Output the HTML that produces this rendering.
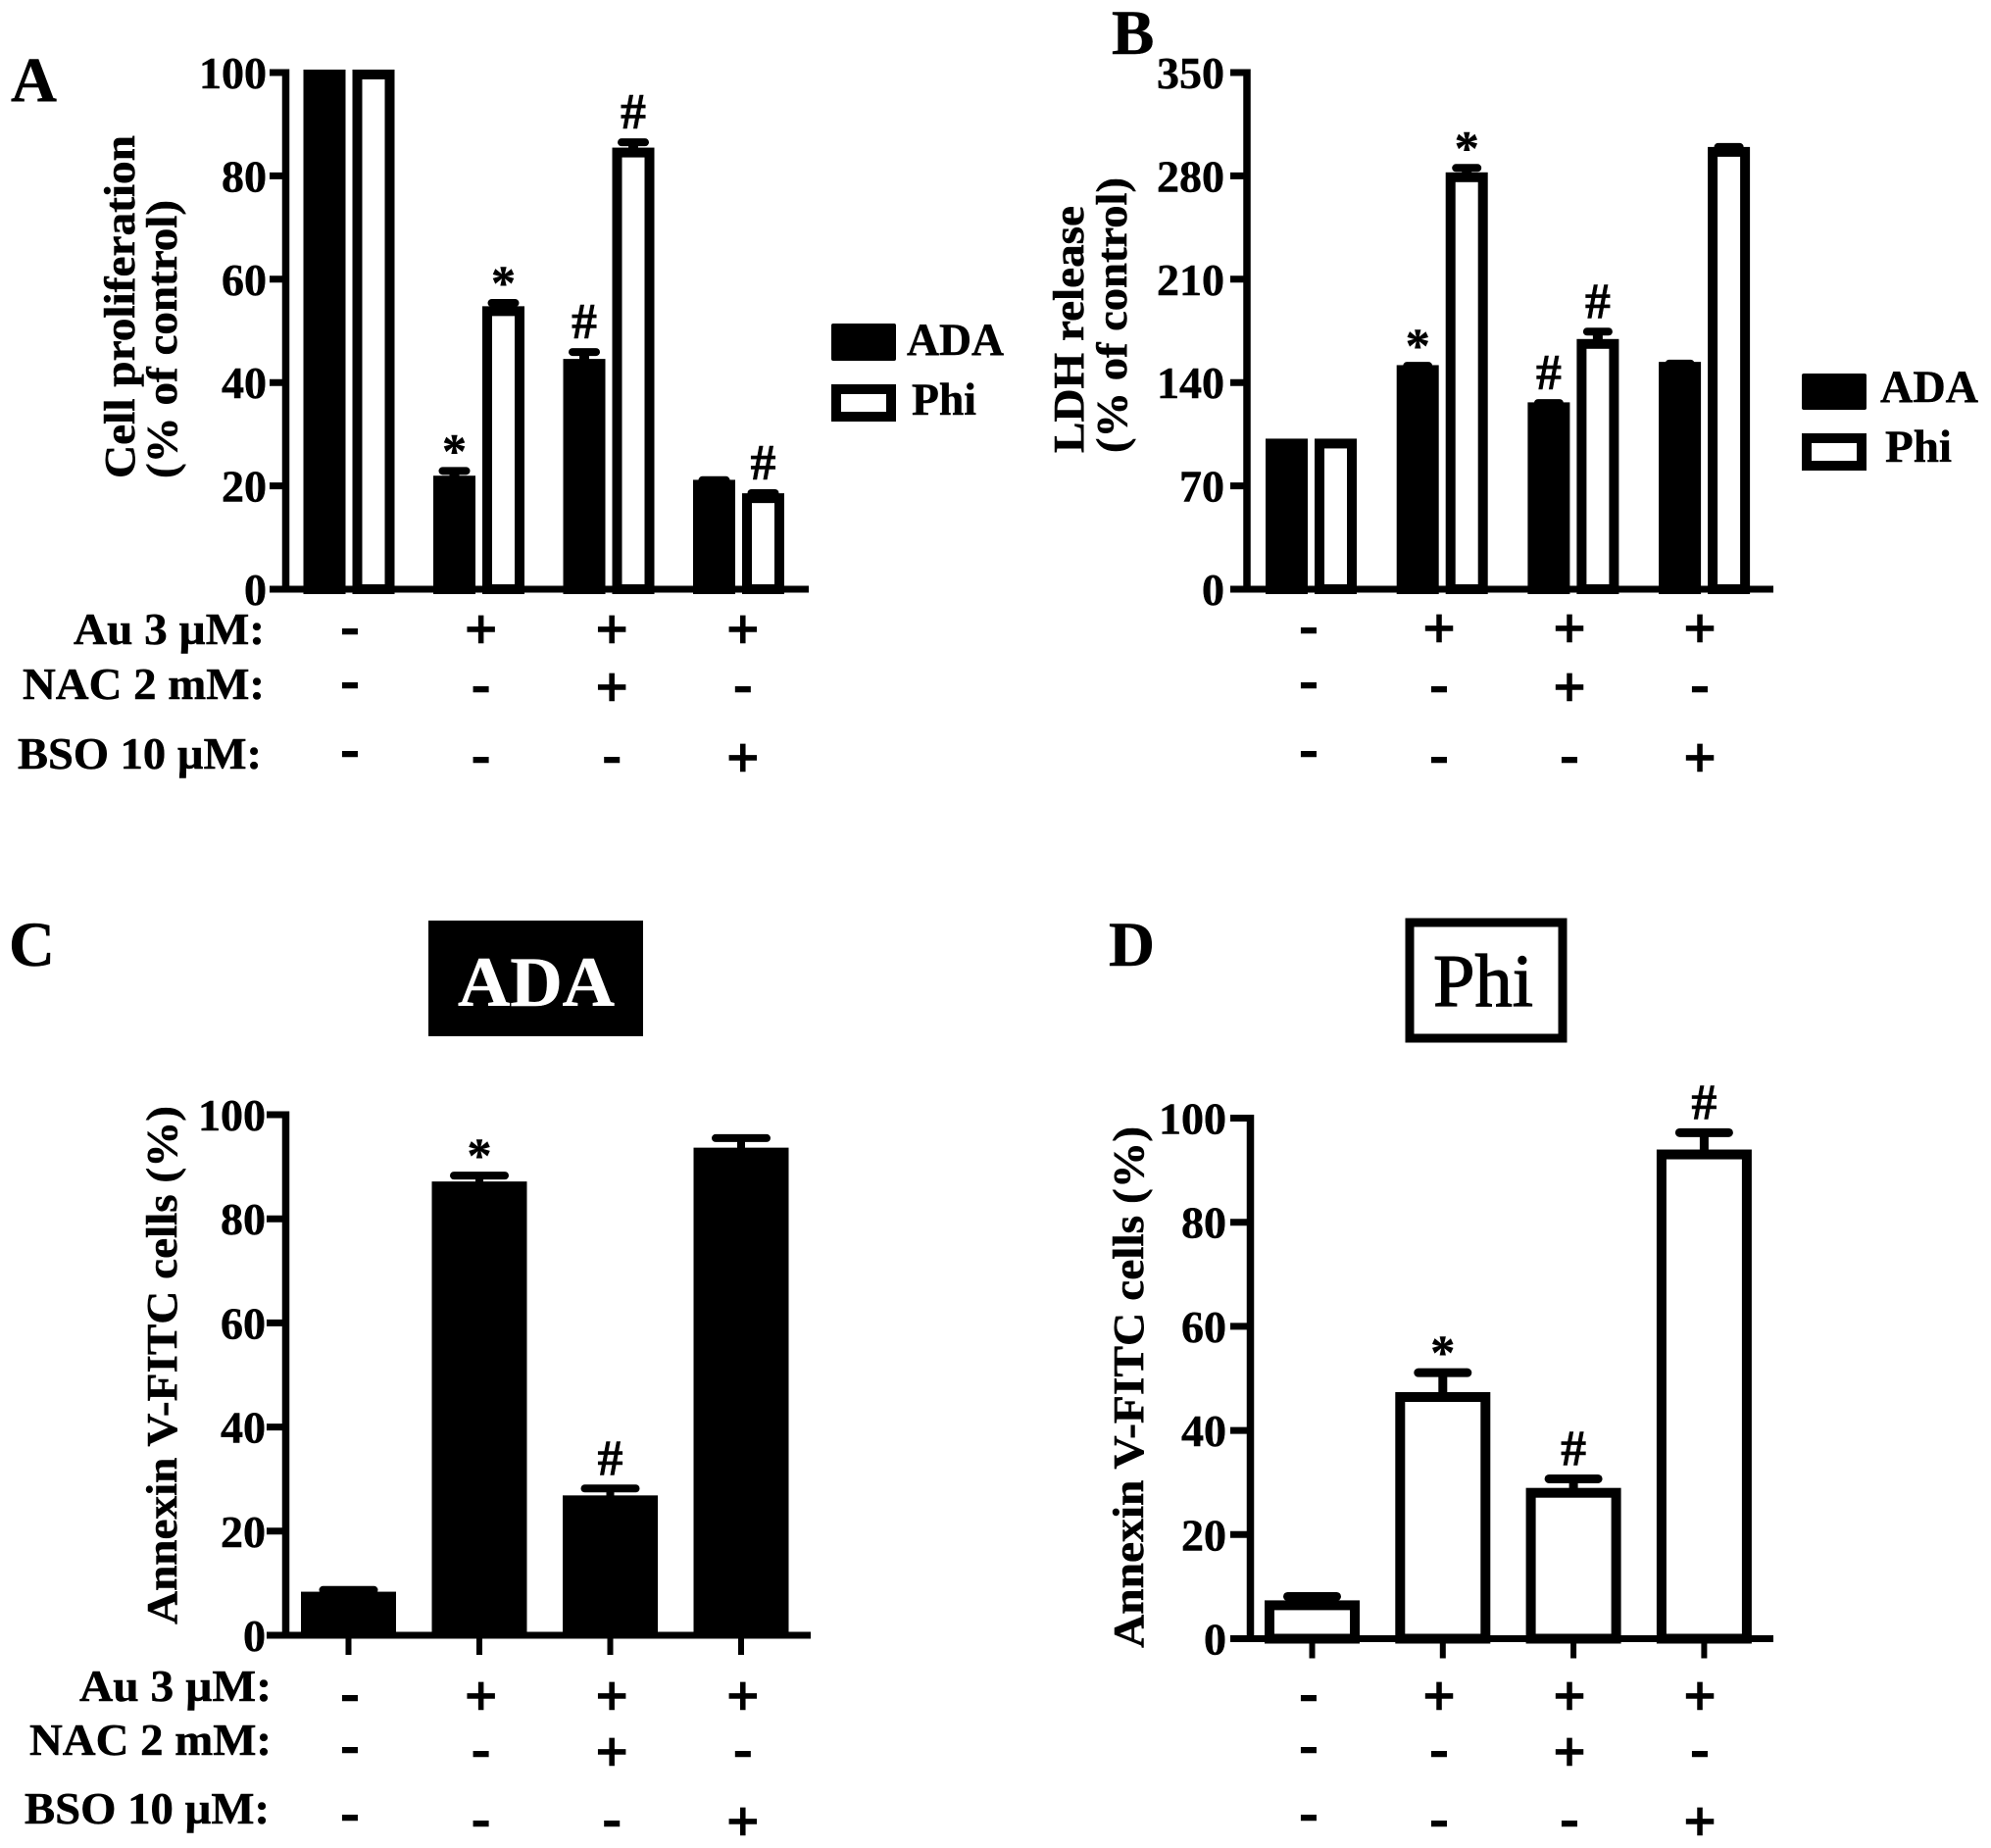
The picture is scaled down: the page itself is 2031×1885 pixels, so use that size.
<!DOCTYPE html>
<html lang="en">
<head>
<meta charset="utf-8">
<title>Cell proliferation, LDH release and Annexin V-FITC panels</title>
<style>
html,body{margin:0;padding:0;background:#fff;width:2031px;height:1885px;overflow:hidden}
svg{display:block}
text{font-family:"Liberation Serif",serif;font-weight:bold;fill:#000;stroke:#000;stroke-width:.5px}
.lab{font-size:44px}
.row{font-size:46px}
.leg{font-size:47px}
.panel{font-size:65px}
</style>
</head>
<body>
<svg id="figure" xmlns="http://www.w3.org/2000/svg" width="2031" height="1885" viewBox="0 0 2031 1885">
  <rect x="0" y="0" width="2031" height="1885" fill="#fff"/>

  <text class="panel" x="11" y="103">A</text>
  <text class="panel" x="1134" y="55">B</text>
  <text class="panel" x="9" y="985">C</text>
  <text class="panel" x="1131" y="985">D</text>

  <text class="lab" transform="translate(137 488) rotate(-90)" textLength="350" lengthAdjust="spacingAndGlyphs">Cell proliferation</text>
  <text class="lab" transform="translate(180 488) rotate(-90)" textLength="284" lengthAdjust="spacingAndGlyphs">(% of control)</text>
  <text class="lab" transform="translate(1105 462) rotate(-90)" textLength="252" lengthAdjust="spacingAndGlyphs">LDH release</text>
  <text class="lab" transform="translate(1149 462) rotate(-90)" textLength="281" lengthAdjust="spacingAndGlyphs">(% of control)</text>
  <text class="lab" transform="translate(180 1657) rotate(-90)" textLength="529" lengthAdjust="spacingAndGlyphs">Annexin V-FITC cells (%)</text>
  <text class="lab" transform="translate(1166 1681) rotate(-90)" textLength="532" lengthAdjust="spacingAndGlyphs">Annexin V-FITC cells (%)</text>

  <text class="row" x="75" y="657" textLength="195" lengthAdjust="spacingAndGlyphs">Au 3 µM:</text>
  <text class="row" x="23" y="713" textLength="247" lengthAdjust="spacingAndGlyphs">NAC 2 mM:</text>
  <text class="row" x="18" y="784" textLength="249" lengthAdjust="spacingAndGlyphs">BSO 10 µM:</text>
  <text class="row" x="81" y="1735" textLength="196" lengthAdjust="spacingAndGlyphs">Au 3 µM:</text>
  <text class="row" x="30" y="1790" textLength="247" lengthAdjust="spacingAndGlyphs">NAC 2 mM:</text>
  <text class="row" x="25" y="1860" textLength="250" lengthAdjust="spacingAndGlyphs">BSO 10 µM:</text>

  <g>
    <rect x="848" y="330" width="66" height="38" rx="2" fill="#000"/>
    <text class="leg" x="925" y="362" textLength="99" lengthAdjust="spacingAndGlyphs">ADA</text>
    <rect x="853" y="397" width="56" height="28" fill="#fff" stroke="#000" stroke-width="10"/>
    <text class="leg" x="930" y="423" textLength="66" lengthAdjust="spacingAndGlyphs">Phi</text>
  </g>
  <g>
    <rect x="1838" y="381" width="66" height="37" rx="2" fill="#000"/>
    <text class="leg" x="1918" y="410" textLength="100" lengthAdjust="spacingAndGlyphs">ADA</text>
    <rect x="1843" y="447" width="56" height="28" fill="#fff" stroke="#000" stroke-width="10"/>
    <text class="leg" x="1923" y="471" textLength="68" lengthAdjust="spacingAndGlyphs">Phi</text>
  </g>

  <g>
    <rect x="437" y="939" width="219" height="118" fill="#000"/>
    <text x="467" y="1026" font-size="72" style="fill:#fff;stroke:#fff" textLength="160" lengthAdjust="spacingAndGlyphs">ADA</text>
  </g>
  <g>
    <rect x="1438" y="941" width="156" height="118" fill="#fff" stroke="#000" stroke-width="9"/>
    <text x="1462" y="1026" font-size="76" style="font-weight:normal;stroke-width:1.2px" textLength="102" lengthAdjust="spacingAndGlyphs">Phi</text>
  </g>
  <g id="charts"></g>
</svg>

<script>
// Shared treatment table
const categories = ['Control', 'Au', 'Au+NAC', 'Au+BSO'];
const auSigns = ['-', '+', '+', '+'];
const nacSigns = ['-', '-', '+', '-'];
const bsoSigns = ['-', '-', '-', '+'];

// Panel A: cell proliferation
const aTicks = [0, 20, 40, 60, 80, 100];
const aAdaValues = [100, 21.4, 44, 20.6];
const aAdaErrors = [0, 1.5, 1.9, 0.5];
const aAdaMarks = ['', '*', '#', ''];
const aPhiValues = [100, 54.2, 84.9, 18];
const aPhiErrors = [0, 1.2, 1.6, 0.6];
const aPhiMarks = ['', '*', '#', '#'];

// Panel B: LDH release
const bTicks = [0, 70, 140, 210, 280, 350];
const bAdaValues = [100, 149.8, 124.6, 152];
const bAdaErrors = [0, 1.5, 1.5, 0.8];
const bAdaMarks = ['', '*', '#', ''];
const bPhiValues = [100, 280.4, 167.5, 297.6];
const bPhiErrors = [0, 5, 7, 2];
const bPhiMarks = ['', '*', '#', ''];

// Panel C: Annexin V-FITC, ADA
const cTicks = [0, 20, 40, 60, 80, 100];
const cValues = [7.8, 86.6, 26.3, 93.1];
const cErrors = [0.9, 1.7, 1.9, 2.4];
const cMarks = ['', '*', '#', ''];

// Panel D: Annexin V-FITC, Phi
const dTicks = [0, 20, 40, 60, 80, 100];
const dValues = [6.8, 46.8, 28.4, 93.4];
const dErrors = [1.3, 4.3, 2.3, 3.8];
const dMarks = ['', '*', '#', '#'];

const SVG_NS = 'http://www.w3.org/2000/svg';
const root = document.getElementById('charts');

function make(parent, tag, attrs, content) {
  const el = document.createElementNS(SVG_NS, tag);
  for (const key in attrs) el.setAttribute(key, attrs[key]);
  if (content !== undefined) el.textContent = content;
  parent.appendChild(el);
  return el;
}

function drawPanel(p) {
  const group = make(root, 'g', {});
  
  
  const maxTick = p.ticks[p.ticks.length - 1];
  const yScale = function (v) { return p.y0 - (v / maxTick) * (p.y0 - p.yTop); };
  const barLeft = function (g, s) { return p.barStart + g * p.groupStep + s * p.seriesStep; };

  p.series.forEach(function (series, s) {
    series.values.forEach(function (value, g) {
      const left = barLeft(g, s);
      const centre = left + p.barWidth / 2;
      const half = p.barStroke / 2;
      const top = yScale(value) - 3 + half;
      const err = series.errors[g];
      const errTop = yScale(value + err);
      if (err > 0) {
        const stem = make(group, 'line', { x1: centre, x2: centre, y1: top, y2: errTop, stroke: '#000', 'stroke-width': p.stem });
        
        
        const cap = make(group, 'line', { x1: centre - p.cap / 2, x2: centre + p.cap / 2, y1: errTop, y2: errTop, stroke: '#000', 'stroke-width': p.capWeight, 'stroke-linecap': 'round' });
        
        
      }
      const bar = make(group, 'rect', {
        x: left + half, y: top, width: p.barWidth - p.barStroke, height: p.y0 - top,
        fill: series.filled ? '#000' : '#fff', stroke: '#000', 'stroke-width': p.barStroke
      });
      
      

      const mark = series.marks[g];
      if (mark === '*') {
        const star = make(group, 'text', { x: centre, y: errTop - 4, 'text-anchor': 'middle', 'font-size': 50 }, mark);
        
        
      } else if (mark === '#') {
        const hash = make(group, 'text', { x: centre, y: errTop - 14, 'text-anchor': 'middle', 'font-size': 52 }, mark);
        
        
      }
    });
  });

  const yAxis = make(group, 'line', { x1: p.axisX, x2: p.axisX, y1: p.yTop - 3.5, y2: p.y0, stroke: '#000', 'stroke-width': 7.5 });
  
  
  const xAxis = make(group, 'line', { x1: p.xLeft, x2: p.xRight, y1: p.y0, y2: p.y0, stroke: '#000', 'stroke-width': 7 });
  
  

  p.ticks.forEach(function (tick) {
    const y = yScale(tick);
    const mark = make(group, 'line', { x1: p.xLeft, x2: p.axisX, y1: y, y2: y, stroke: '#000', 'stroke-width': 7 });
    
    
    const label = make(group, 'text', { x: p.tickRight, y: y + 16, 'text-anchor': 'end', 'font-size': 46 }, String(tick));
    
    
  });

  if (p.xTicks) {
    categories.forEach(function (cat, g) {
      const centre = barLeft(g, 0) + p.barWidth / 2;
      const t = make(group, 'line', { x1: centre, x2: centre, y1: p.y0, y2: p.y0 + 20, stroke: '#000', 'stroke-width': 6 });
      
      
    });
  }

  [auSigns, nacSigns, bsoSigns].forEach(function (signs, row) {
    signs.forEach(function (sign, col) {
      const fontSize = sign === '+' ? 58 : 56;
      const lift = sign === '+' ? 0.25 : 0.19;
      const colShift = (col === 0 && row > 0) ? -2 - 2 * row : 0;
      const cy = p.signY[row] + colShift;
      const el = make(group, 'text', { x: p.signX + col * p.signStep, y: cy + lift * fontSize, 'text-anchor': 'middle', 'font-size': fontSize, style: 'stroke-width:1.5px' }, sign);
      
      
    });
  });
}

drawPanel({
  id: 'a', ticks: aTicks, y0: 601, yTop: 74, axisX: 291.5, xLeft: 275, xRight: 825, tickRight: 272,
  barStart: 309.5, groupStep: 132.5, seriesStep: 50, barWidth: 43, barStroke: 10,
  stem: 10, cap: 24, capWeight: 8, xTicks: false,
  signX: 357, signStep: 133.6, signY: [647, 706, 778],
  series: [
    { name: 'ada', values: aAdaValues, errors: aAdaErrors, marks: aAdaMarks, filled: true },
    { name: 'phi', values: aPhiValues, errors: aPhiErrors, marks: aPhiMarks, filled: false }
  ]
});
drawPanel({
  id: 'b', ticks: bTicks, y0: 601, yTop: 74, axisX: 1272, xLeft: 1255, xRight: 1809, tickRight: 1249,
  barStart: 1291, groupStep: 133.7, seriesStep: 50, barWidth: 43, barStroke: 10,
  stem: 10, cap: 22, capWeight: 8, xTicks: false,
  signX: 1335, signStep: 133, signY: [646, 706, 778],
  series: [
    { name: 'ada', values: bAdaValues, errors: bAdaErrors, marks: bAdaMarks, filled: true },
    { name: 'phi', values: bPhiValues, errors: bPhiErrors, marks: bPhiMarks, filled: false }
  ]
});
drawPanel({
  id: 'c', ticks: cTicks, y0: 1668, yTop: 1137, axisX: 291.5, xLeft: 272, xRight: 827, tickRight: 271,
  barStart: 307, groupStep: 133.5, seriesStep: 0, barWidth: 97, barStroke: 6,
  stem: 8, cap: 52, capWeight: 8, xTicks: true,
  signX: 357, signStep: 133.6, signY: [1735, 1792, 1863],
  series: [
    { name: 'ada', values: cValues, errors: cErrors, marks: cMarks, filled: true }
  ]
});
drawPanel({
  id: 'd', ticks: dTicks, y0: 1671.5, yTop: 1140.5, axisX: 1275.5, xLeft: 1255, xRight: 1809, tickRight: 1251,
  barStart: 1290, groupStep: 133.3, seriesStep: 0, barWidth: 97, barStroke: 10,
  stem: 9, cap: 50, capWeight: 9, xTicks: true,
  signX: 1335, signStep: 133, signY: [1735, 1792, 1863],
  series: [
    { name: 'phi', values: dValues, errors: dErrors, marks: dMarks, filled: false }
  ]
});
</script>
</body>
</html>
